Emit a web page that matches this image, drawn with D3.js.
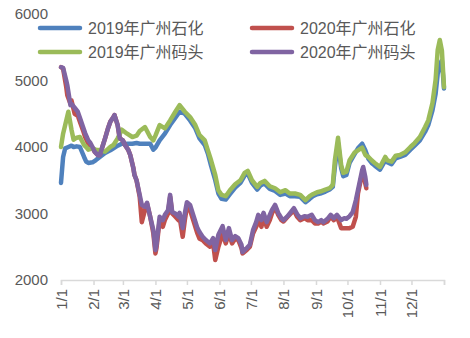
<!DOCTYPE html>
<html><head><meta charset="utf-8">
<script src="https://cdn.jsdelivr.net/npm/d3@7"></script>
<style>
html,body{margin:0;padding:0;background:#fff;}
svg{display:block;}
</style></head>
<body>
<svg id="chart" width="470" height="338"></svg>
<script>
// ---- data ----
const seriesNames = ["2019年广州石化", "2020年广州石化", "2019年广州码头", "2020年广州码头"];
const monthTickDays = [0,31,59,90,120,151,181,212,243,273,304,334,365];
const monthTickLabels = ["1/1","2/1","3/1","4/1","5/1","6/1","7/1","8/1","9/1","10/1","11/1","12/1",""];
const yTicks = [2000,3000,4000,5000,6000];

const days2019 = [0,2,4,7,10,12,15,18,22,24,26,30,33,37,42,47,50,54,58,63,68,72,75,80,85,88,90,94,99,104,109,113,118,123,128,132,137,140,143,147,150,153,157,161,166,171,175,178,182,187,190,194,199,204,209,214,218,223,228,233,237,240,244,247,252,256,259,261,264,267,269,272,275,280,283,287,290,293,296,299,304,309,311,315,319,323,328,333,337,342,347,350,354,357,359,361,363,365];
const shihua2019 = [3460,3850,3980,4000,4020,4000,4010,4000,3850,3780,3760,3770,3800,3850,3910,3950,3980,4020,4050,4050,4050,4060,4050,4050,4050,3960,3990,4100,4200,4330,4440,4530,4500,4400,4280,4130,4030,3900,3720,3500,3300,3220,3210,3290,3390,3460,3570,3600,3460,3360,3420,3450,3370,3340,3280,3300,3260,3260,3250,3170,3220,3260,3290,3300,3330,3360,3400,3700,4060,3680,3560,3580,3760,3900,3980,4050,3950,3820,3760,3720,3660,3800,3770,3740,3830,3850,3880,3960,4020,4100,4230,4330,4550,4800,5100,5250,5300,4880];
const matou2019 = [4000,4200,4330,4530,4260,4110,4140,4150,4030,4000,3960,3980,3960,3950,3930,4000,4030,4130,4260,4200,4150,4170,4240,4300,4150,4100,4170,4330,4280,4400,4530,4630,4530,4450,4330,4180,4100,3950,3800,3580,3350,3280,3260,3350,3440,3500,3610,3640,3500,3400,3460,3490,3410,3380,3320,3350,3300,3300,3280,3200,3260,3290,3320,3330,3360,3380,3430,3800,4140,3730,3610,3630,3800,3920,3950,3990,3880,3850,3800,3760,3700,3850,3800,3780,3870,3880,3920,4000,4060,4150,4300,4400,4660,5010,5460,5610,5450,4900];

const days2020 = [0,2,5,6,9,10,13,16,18,21,23,26,28,30,32,35,37,40,42,45,47,50,51,54,56,59,61,64,66,69,70,72,75,77,80,82,85,88,90,91,94,97,99,102,104,106,109,112,113,116,118,120,123,126,130,132,135,138,142,145,147,150,154,157,160,163,166,169,172,173,177,180,183,186,188,191,193,196,199,201,204,207,210,212,216,219,222,225,228,232,235,239,242,245,248,250,254,257,260,263,267,270,272,275,278,281,283,285,287,288,290,291];
const matou2020 = [5200,5190,5000,4930,4630,4650,4590,4530,4440,4300,4210,4100,4060,4000,3930,3880,3880,4030,4130,4290,4380,4450,4480,4330,4130,4100,4030,3960,3880,3680,3580,3500,3280,3130,3100,3160,2950,2750,2450,2530,2950,2900,2980,3050,3280,3020,3000,2950,3010,2780,3000,3170,3130,2980,2780,2720,2650,2600,2550,2630,2450,2680,2810,2600,2780,2600,2660,2630,2530,2420,2480,2530,2750,2870,2980,2900,3010,2870,2980,3050,3130,3010,2930,2900,2960,3020,3080,2990,2930,2960,2950,2980,2900,2870,2900,2870,2920,2980,2930,2980,2900,2930,2920,2960,3020,3200,3350,3500,3650,3700,3550,3430];
const shihua2020 = [5200,5180,4900,4780,4650,4700,4500,4470,4380,4250,4150,4050,4000,3980,3930,3880,3880,4030,4130,4290,4380,4450,4480,4330,4130,4100,4030,3960,3880,3680,3580,3500,3250,2870,3050,3150,2950,2700,2400,2480,2900,2800,2900,3000,3250,3000,2950,2900,2950,2650,2900,3100,3050,2900,2700,2620,2600,2550,2500,2550,2300,2500,2700,2550,2700,2550,2620,2600,2480,2400,2450,2500,2700,2800,2900,2800,2950,2800,2900,3000,3100,2980,2900,2880,2950,3000,3050,2950,2900,2930,2900,2900,2850,2850,2880,2850,2880,2950,2900,2950,2780,2780,2780,2780,2800,2950,3300,3450,3600,3650,3450,3380];

const colors = ["#4F81BD","#C0504D","#9BBB59","#8064A2"];

// ---- chart ----
const svg = d3.select("#chart");
const x = d3.scaleLinear().domain([0,365]).range([61,444]);
const y = d3.scaleLinear().domain([2000,6000]).range([280,14]);
const textColor = "#595959";
const tickFont = "'Liberation Sans', Arial, sans-serif";
const cjkFont = "'Liberation Sans', 'Noto Sans CJK SC', sans-serif";

// y axis labels
svg.append("g").selectAll("text").data(yTicks).join("text")
  .attr("x", 48).attr("y", d => y(d)).attr("dy","0.35em")
  .attr("text-anchor","end").attr("fill",textColor)
  .style("font-family",tickFont).style("font-size","15px")
  .text(d => d);

// x axis
const xAxis = d3.axisBottom(x).tickValues(monthTickDays).tickSize(5).tickFormat((d,i)=>monthTickLabels[i]);
const gx = svg.append("g").attr("transform","translate(0,280)").call(xAxis);
gx.select(".domain").attr("stroke","#D9D9D9").attr("stroke-width",1.5);
gx.selectAll(".tick line").attr("stroke","#D9D9D9").attr("stroke-width",1.5);
gx.selectAll(".tick text")
  .attr("fill",textColor).style("font-family",tickFont).style("font-size","15px")
  .attr("text-anchor","end").attr("transform","rotate(-90)")
  .attr("x",-9).attr("y",0).attr("dy","0.35em");

// lines
const line = d3.line().x(d=>x(d[0])).y(d=>y(d[1])).curve(d3.curveLinear);
const series = [
  {name:seriesNames[0], days:days2019, vals:shihua2019, color:colors[0]},
  {name:seriesNames[1], days:days2020, vals:shihua2020, color:colors[1]},
  {name:seriesNames[2], days:days2019, vals:matou2019, color:colors[2]},
  {name:seriesNames[3], days:days2020, vals:matou2020, color:colors[3]}
];
svg.append("g").selectAll("path").data(series).join("path")
  .attr("d", s => line(s.days.map((d,i)=>[d,s.vals[i]])))
  .attr("fill","none").attr("stroke", s=>s.color)
  .attr("stroke-width",4.5).attr("stroke-linejoin","round").attr("stroke-linecap","round");

// legend
const legendPos = [[40,28],[252,28],[40,52],[252,52]];
const lg = svg.append("g").selectAll("g").data(series).join("g")
  .attr("transform",(d,i)=>`translate(${legendPos[i][0]},${legendPos[i][1]})`);
lg.append("line").attr("x1",0).attr("x2",40).attr("y1",0).attr("y2",0)
  .attr("stroke",d=>d.color).attr("stroke-width",4.5).attr("stroke-linecap","round");
lg.append("text").attr("x",48).attr("y",0).attr("dy","0.36em")
  .attr("fill",textColor).style("font-family",cjkFont).style("font-size","16px")
  .text(d=>d.name);
</script>
</body></html>
